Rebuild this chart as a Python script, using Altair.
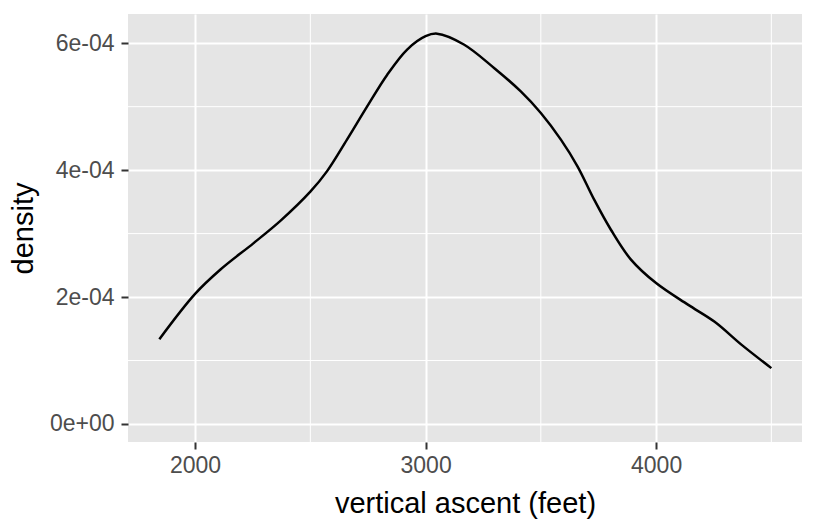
import altair as alt
import pandas as pd

# Density curve (x in feet, y in units of 1e-4)
ascent = [1845, 2000, 2109, 2254, 2370, 2500, 2572, 2659, 2746, 2833, 2920,
          3000, 3050, 3166, 3297, 3413, 3500, 3587, 3659, 3732, 3804, 3891,
          4000, 4138, 4254, 4370, 4500]
density_e4 = [1.336, 2.05, 2.43, 2.85, 3.20, 3.66, 3.98, 4.48, 5.0, 5.5, 5.9,
              6.11, 6.15, 5.98, 5.61, 5.24, 4.90, 4.48, 4.06, 3.53, 3.06, 2.59,
              2.22, 1.88, 1.61, 1.25, 0.88]

x_major = [2000, 3000, 4000]
x_minor = [2500, 3500, 4500]
y_major = [0, 2e-4, 4e-4, 6e-4]
y_minor = [1e-4, 3e-4, 5e-4]

curve = pd.DataFrame({"ascent": ascent, "density": [v * 1e-4 for v in density_e4]})
xminor_df = pd.DataFrame({"ascent": x_minor})
yminor_df = pd.DataFrame({"density": y_minor})

xscale = alt.Scale(domain=[1709, 4633], nice=False, zero=False)
yscale = alt.Scale(domain=[-0.284e-4, 6.46e-4], nice=False, zero=False)

xaxis = alt.Axis(values=x_major, title="vertical ascent (feet)", format="d")
yaxis = alt.Axis(
    values=y_major,
    title="density",
    labelExpr="datum.value == 0 ? '0e+00' : (round(datum.value * 10000) + 'e-04')",
)

xgrid = alt.Chart(xminor_df).mark_rule(color="white", strokeWidth=1).encode(
    x=alt.X("ascent:Q", scale=xscale, axis=xaxis)
)
ygrid = alt.Chart(yminor_df).mark_rule(color="white", strokeWidth=1).encode(
    y=alt.Y("density:Q", scale=yscale, axis=yaxis)
)
line = alt.Chart(curve).mark_line(color="black", strokeWidth=2.5, interpolate="catmull-rom").encode(
    x=alt.X("ascent:Q", scale=xscale, axis=xaxis),
    y=alt.Y("density:Q", scale=yscale, axis=yaxis),
)

chart = (
    alt.layer(xgrid, ygrid, line)
    .properties(
        width=674,
        height=428,
        autosize=alt.AutoSizeParams(type="none"),
        padding={"left": 120, "top": 6, "right": 6, "bottom": 78},
    )
    .configure(font="Liberation Sans")
    .configure_view(fill="#E5E5E5", stroke=None)
    .configure_axis(
        domain=False,
        grid=True,
        gridColor="white",
        gridWidth=2,
        tickColor="#333333",
        tickSize=7,
        tickWidth=2,
        labelColor="#4D4D4D",
        labelFontSize=23,
        titleFontSize=29,
        titleFontWeight="normal",
        titleColor="black",
        labelFont="Liberation Sans",
        titleFont="Liberation Sans",
    )
    .configure_axisX(labelPadding=5, titlePadding=12)
    .configure_axisY(labelPadding=7, titlePadding=11)
)

chart.save("out.html", embed_options={"renderer": "svg", "actions": False})
